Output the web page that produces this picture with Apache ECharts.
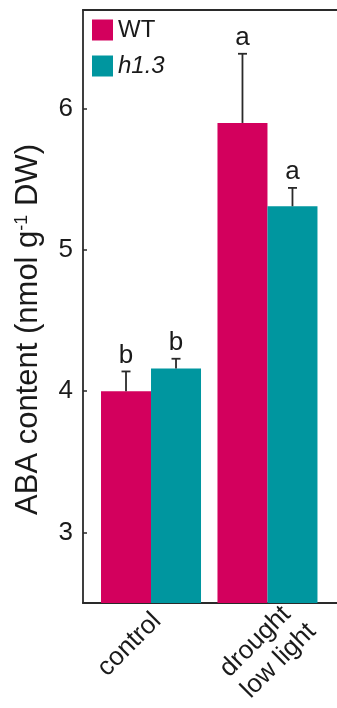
<!DOCTYPE html>
<html>
<head>
<meta charset="utf-8">
<script src="https://cdn.jsdelivr.net/npm/echarts@6/dist/echarts.min.js"></script>
<style>
  html, body { margin: 0; padding: 0; background: #fff; }
  #chart { width: 337px; height: 708px; }
</style>
</head>
<body>
<div id="chart"></div>
<script>
// ABA content in WT and h1.3 under control and drought / low light
const categories = ['control', 'drought\nlow light'];
const seriesNames = ['WT', 'h1.3'];
const wtValues = [4.00, 5.90];
const wtErrors = [0.14, 0.49];
const h13Values = [4.16, 5.31];
const h13Errors = [0.07, 0.13];
const wtLetters = ['b', 'a'];
const h13Letters = ['b', 'a'];
const yTicks = [3, 4, 5, 6];

const FONT = '"Liberation Sans", Arial, Helvetica, sans-serif';
const TEXT = '#1a1a1a';
const AXIS = '#2a2a2a';
const COLORS = ['#D3005D', '#00969F'];
const BAR_W = 50;

// group centres sit at x = 1, 2 on a value axis; category labels are nudged right
const xPos = categories.map((_, i) => i + 1);
const labelNudge = [0.052, 0.29];

function barData(vals) {
  return vals.map((v, i) => [xPos[i], v]);
}
function errData(vals, errs, letters) {
  return vals.map((v, i) => [xPos[i], v, errs[i], letters[i]]);
}
function errorRenderer(offset) {
  return function (params, api) {
    const x = api.value(0), y = api.value(1), e = api.value(2);
    const letter = api.value(3);
    const base = api.coord([x, y]);
    const top = api.coord([x, y + e]);
    const cx = base[0] + offset;
    const style = { stroke: AXIS, lineWidth: 1.8 };
    return {
      type: 'group',
      children: [
        { type: 'line', shape: { x1: cx, y1: base[1], x2: cx, y2: top[1] }, style },
        { type: 'line', shape: { x1: cx - 4.5, y1: top[1], x2: cx + 4.5, y2: top[1] }, style },
        { type: 'text', x: cx, y: top[1] - 3,
          style: { text: letter, fill: TEXT, fontSize: 26, fontFamily: FONT,
                   align: 'center', verticalAlign: 'bottom' } }
      ]
    };
  };
}

const chart = echarts.init(document.getElementById('chart'), null, { renderer: 'canvas' });
const xMin = 0.416, xMax = 2.597;

chart.setOption({
  animation: false,
  backgroundColor: '#fff',
  textStyle: { fontFamily: FONT, color: TEXT },
  grid: { left: 83, right: 0, top: 10, bottom: 105, containLabel: false },
  legend: {
    orient: 'vertical', left: 92, top: 18, padding: 0,
    itemWidth: 21, itemHeight: 21, itemGap: 12, icon: 'rect',
    textStyle: { fontSize: 24, color: TEXT, fontFamily: FONT, lineHeight: 21 },
    data: [
      { name: seriesNames[0] },
      { name: seriesNames[1], textStyle: { fontStyle: 'italic' } }
    ]
  },
  xAxis: [
    {
      type: 'value', min: xMin, max: xMax, position: 'bottom',
      axisLine: { show: true, onZero: false, lineStyle: { color: AXIS, width: 2 } },
      axisTick: { show: false },
      splitLine: { show: false },
      axisLabel: {
        customValues: xPos.map((p, i) => p + labelNudge[i]),
        formatter: function (v) {
          const lines = categories[Math.round(v) - 1].split('\n');
          return lines.map(l => '{l|' + l + '}').join('\n');
        },
        rotate: 45, margin: 14,
        color: TEXT, fontSize: 26, fontFamily: FONT, lineHeight: 30,
        rich: { l: { align: 'left', fontSize: 26, fontFamily: FONT, color: TEXT, lineHeight: 30 } }
      }
    },
    {
      type: 'value', min: xMin, max: xMax, position: 'top',
      axisLine: { show: true, onZero: false, lineStyle: { color: AXIS, width: 2 } },
      axisTick: { show: false }, axisLabel: { show: false }, splitLine: { show: false }
    }
  ],
  yAxis: {
    type: 'value', min: 2.5, max: 6.7,
    axisLine: { show: true, onZero: false, lineStyle: { color: AXIS, width: 1.8 } },
    axisTick: { show: true, inside: true, length: 4, customValues: yTicks,
                lineStyle: { color: AXIS, width: 1.5 } },
    axisLabel: { customValues: yTicks, margin: 10, color: TEXT, fontSize: 26, fontFamily: FONT },
    splitLine: { show: false },
    name: 'ABA content (nmol g{sup|-1} DW)',
    nameLocation: 'middle', nameGap: 39,
    nameTextStyle: {
      color: TEXT, fontSize: 31, fontFamily: FONT, padding: [0, 46, 0, 0],
      rich: { sup: { fontSize: 18, verticalAlign: 'top', color: TEXT, fontFamily: FONT } }
    }
  },
  series: [
    { name: seriesNames[0], type: 'bar', data: barData(wtValues), barWidth: BAR_W, barGap: '0%',
      itemStyle: { color: COLORS[0] } },
    { name: seriesNames[1], type: 'bar', data: barData(h13Values), barWidth: BAR_W, barGap: '0%',
      itemStyle: { color: COLORS[1] } },
    { type: 'custom', renderItem: errorRenderer(-BAR_W / 2), data: errData(wtValues, wtErrors, wtLetters),
      encode: { x: 0, y: 1 }, z: 5 },
    { type: 'custom', renderItem: errorRenderer(BAR_W / 2), data: errData(h13Values, h13Errors, h13Letters),
      encode: { x: 0, y: 1 }, z: 5 }
  ]
});
</script>
</body>
</html>
